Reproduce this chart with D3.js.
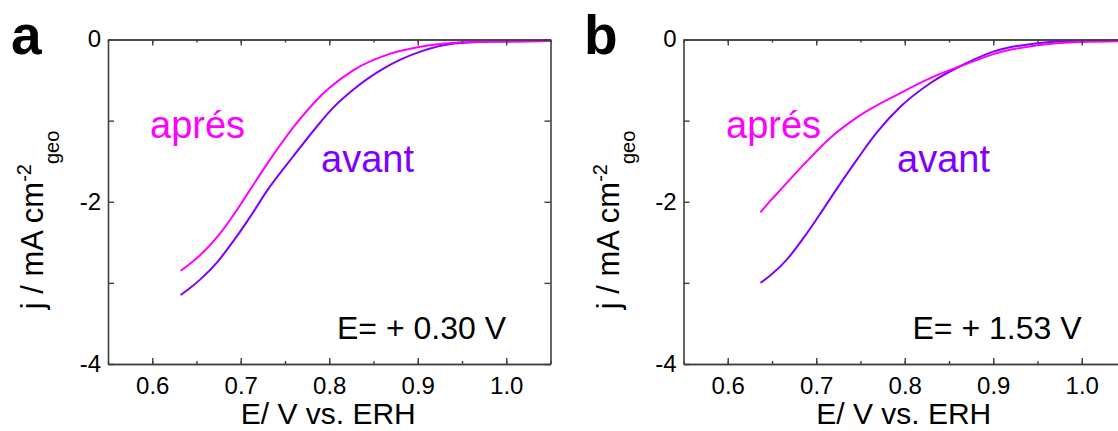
<!DOCTYPE html>
<html>
<head>
<meta charset="utf-8">
<script src="https://cdn.jsdelivr.net/npm/d3@7"></script>
<style>
  html, body { margin: 0; padding: 0; background: #fff; }
  svg { display: block; }
  text { font-family: "Liberation Sans", Arial, sans-serif; }
</style>
</head>
<body>
<svg id="chart" width="1118" height="431"></svg>
<script>
// ---- Data ----
const xTicks = [0.6, 0.7, 0.8, 0.9, 1.0];
const xTickLabels = ["0.6", "0.7", "0.8", "0.9", "1.0"];
const yTicks = [0, -2, -4];
const yTickLabels = ["0", "-2", "-4"];

// Panel a (E = +0.30 V)
const aAvantE = [0.632, 0.642, 0.654, 0.673, 0.692, 0.711, 0.730, 0.760, 0.790, 0.801, 0.827, 0.865, 0.903, 0.941, 0.978, 1.05];
const aAvantJ = [-3.15, -3.07, -2.96, -2.75, -2.48, -2.18, -1.86, -1.43, -1.02, -0.88, -0.62, -0.335, -0.15, -0.05, -0.027, -0.02];
const aApresE = [0.632, 0.642, 0.654, 0.673, 0.692, 0.703, 0.730, 0.760, 0.790, 0.801, 0.827, 0.865, 0.903, 0.941, 0.978, 1.05];
const aApresJ = [-2.85, -2.77, -2.66, -2.44, -2.16, -1.98, -1.53, -1.075, -0.70, -0.59, -0.38, -0.19, -0.09, -0.04, -0.025, -0.02];

// Panel b (E = +1.53 V)
const bAvantE = [0.637, 0.648, 0.667, 0.686, 0.705, 0.722, 0.746, 0.769, 0.795, 0.830, 0.870, 0.900, 0.950, 1.000, 1.05];
const bAvantJ = [-3.0, -2.91, -2.71, -2.44, -2.14, -1.86, -1.48, -1.14, -0.83, -0.53, -0.29, -0.15, -0.045, -0.015, -0.01];
const bApresE = [0.637, 0.648, 0.659, 0.686, 0.716, 0.746, 0.795, 0.830, 0.870, 0.900, 0.950, 1.000, 1.05];
const bApresJ = [-2.13, -1.99, -1.86, -1.54, -1.21, -0.96, -0.66, -0.47, -0.30, -0.18, -0.07, -0.03, -0.02];

const xDomain = [0.55, 1.05];
const yDomain = [-4, 0];
const colorAvant = "#8000ff";
const colorApres = "#ff00ff";

const panels = [
  { letter: "a", left: 108, note: "E= + 0.30 V", avantE: aAvantE, avantJ: aAvantJ, apresE: aApresE, apresJ: aApresJ },
  { letter: "b", left: 683.5, note: "E= + 1.53 V", avantE: bAvantE, avantJ: bAvantJ, apresE: bApresE, apresJ: bApresJ }
];

const svg = d3.select("#chart");
const plotTop = 39.5, plotBottom = 364, plotW = 442.5;
const axisColor = "#404040";

panels.forEach(p => {
  const x = d3.scaleLinear().domain(xDomain).range([p.left, p.left + plotW]);
  const y = d3.scaleLinear().domain(yDomain).range([plotBottom, plotTop]);
  const g = svg.append("g");

  const minorX = d3.range(0.55, 1.0501, 0.05).map(v => +v.toFixed(2));
  const yAll = [-4, -3, -2, -1, 0];

  const clipId = "clip-" + p.letter;
  svg.append("clipPath").attr("id", clipId).append("rect")
    .attr("x", p.left).attr("y", plotTop - 3).attr("width", plotW).attr("height", plotBottom - plotTop + 3);

  const line = d3.line().x(d => x(d[0])).y(d => y(d[1])).curve(d3.curveMonotoneX);
  g.append("path").datum(p.avantE.map((e, i) => [e, p.avantJ[i]]))
    .attr("d", line).attr("fill", "none").attr("stroke", colorAvant).attr("stroke-width", 2)
    .attr("clip-path", `url(#${clipId})`);
  g.append("path").datum(p.apresE.map((e, i) => [e, p.apresJ[i]]))
    .attr("d", line).attr("fill", "none").attr("stroke", colorApres).attr("stroke-width", 2)
    .attr("clip-path", `url(#${clipId})`);

  const bAxis = d3.axisBottom(x).tickValues(minorX).tickSizeInner(-3).tickSizeOuter(0).tickFormat("");
  const bAxisMaj = d3.axisBottom(x).tickValues(xTicks).tickSizeInner(-6).tickSizeOuter(0)
    .tickFormat((d, i) => xTickLabels[i]);
  const tAxis = d3.axisTop(x).tickValues(minorX).tickSizeInner(-3).tickSizeOuter(0).tickFormat("");
  const tAxisMaj = d3.axisTop(x).tickValues(xTicks).tickSizeInner(-6).tickSizeOuter(0).tickFormat("");
  const lAxis = d3.axisLeft(y).tickValues(yAll).tickSizeInner(-6).tickSizeOuter(0).tickFormat("");
  const lAxisLab = d3.axisLeft(y).tickValues(yTicks).tickSize(0).tickPadding(7)
    .tickFormat((d, i) => yTickLabels[i]);
  const rAxis = d3.axisRight(y).tickValues(yAll).tickSizeInner(-6).tickSizeOuter(0).tickFormat("");

  const styleAxis = sel => {
    sel.selectAll("path").attr("stroke", axisColor).attr("stroke-width", 1.6);
    sel.selectAll("line").attr("stroke", axisColor).attr("stroke-width", 1.4);
    sel.selectAll("text").attr("fill", "#000").style("font-size", "24px")
      .style("font-family", '"Liberation Sans", Arial, sans-serif');
  };

  g.append("g").attr("transform", `translate(0,${plotBottom})`).call(bAxis).call(styleAxis);
  const bm = g.append("g").attr("transform", `translate(0,${plotBottom})`).call(bAxisMaj).call(styleAxis);
  bm.selectAll("text").attr("dy", null).attr("y", 29.5);
  g.append("g").attr("transform", `translate(0,${plotTop})`).call(tAxis).call(styleAxis);
  g.append("g").attr("transform", `translate(0,${plotTop})`).call(tAxisMaj).call(styleAxis);
  g.append("g").attr("transform", `translate(${p.left},0)`).call(lAxis).call(styleAxis);
  const ll = g.append("g").attr("transform", `translate(${p.left},0)`).call(lAxisLab).call(styleAxis);
  ll.select("path").remove();
  ll.selectAll("text").attr("dy", "0.31em");
  g.append("g").attr("transform", `translate(${p.left + plotW},0)`).call(rAxis).call(styleAxis);

  g.append("text").attr("x", p.left + plotW / 2 - 1).attr("y", 424).attr("text-anchor", "middle")
    .style("font-size", "30px").attr("fill", "#000").text("E/ V vs. ERH");

  const yt = g.append("text")
    .attr("transform", `translate(${p.left - 65},${220}) rotate(-90)`)
    .attr("text-anchor", "middle").style("font-size", "31px").attr("fill", "#000");
  yt.append("tspan").text("j / mA cm");
  yt.append("tspan").attr("dy", -12).style("font-size", "20px").text("-2");
  yt.append("tspan").attr("dy", 28).style("font-size", "20px").text("geo");

  svg.append("text").attr("x", p.letter === "a" ? 11 : 584).attr("y", 54)
    .style("font-size", "55px").style("font-weight", "bold").attr("fill", "#000").text(p.letter);

  const ax = p.letter === "a" ? { ap: 150, av: 321 } : { ap: 726, av: 897 };
  g.append("text").attr("x", ax.ap).attr("y", 138).style("font-size", "38px").attr("fill", colorApres).text("aprés");
  g.append("text").attr("x", ax.av).attr("y", 172).style("font-size", "38px").attr("fill", colorAvant).text("avant");
  g.append("text").attr("x", p.left + 229).attr("y", 339).style("font-size", "32px").attr("fill", "#000").text(p.note);
});
</script>
</body>
</html>
